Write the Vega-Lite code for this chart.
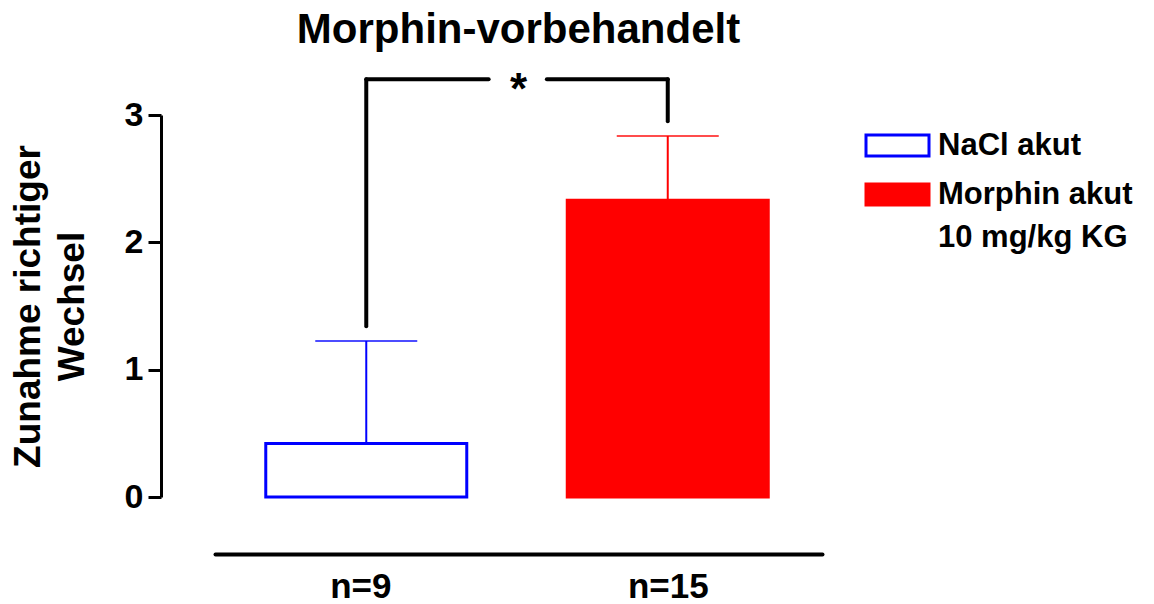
{
  "$schema": "https://vega.github.io/schema/vega-lite/v6.json",
  "width": 607,
  "height": 382,
  "autosize": {"type": "none"},
  "padding": {"left": 215, "top": 115, "right": 332, "bottom": 107},
  "background": "white",
  "config": {
    "font": "Liberation Sans",
    "view": {"stroke": null},
    "style": {"guide-label": {"lineHeight": 43}}
  },
  "title": {
    "text": "Morphin-vorbehandelt",
    "fontSize": 42,
    "fontWeight": "bold",
    "font": "Liberation Sans",
    "color": "black",
    "anchor": "middle",
    "frame": "group",
    "offset": 17
  },
  "datasets": {
    "bars": [
      {"pos": 0.99, "group": "NaCl akut", "mean": 0.42, "upper": 1.225},
      {"pos": 2, "group": "Morphin akut", "mean": 2.33, "upper": 2.835}
    ],
    "bracket": [
      {"x": 0.99, "x2": 0.99, "y": 1.34, "y2": 3.28},
      {"x": 0.99, "x2": 1.4, "y": 3.28, "y2": 3.28},
      {"x": 1.595, "x2": 2, "y": 3.28, "y2": 3.28},
      {"x": 2, "x2": 2, "y": 2.95, "y2": 3.28}
    ],
    "star": [
      {"x": 1.5, "y": 3.28, "label": "*"}
    ]
  },
  "layer": [
    {
      "data": {"name": "bars"},
      "mark": {"type": "bar", "size": 201, "strokeWidth": 3},
      "encoding": {
        "x": {
          "field": "pos", "type": "quantitative",
          "scale": {"domain": [0.5, 2.5], "nice": false, "zero": false},
          "axis": {
            "orient": "bottom", "offset": 57, "values": [0.97, 2],
            "labelExpr": "datum.value < 1.5 ? 'n=9' : 'n=15'",
            "ticks": false, "grid": false, "title": null,
            "domainColor": "black", "domainWidth": 4, "domainCap": "round",
            "labelFontSize": 35, "labelFontWeight": "bold", "labelColor": "black",
            "labelFont": "Liberation Sans", "labelPadding": 15
          }
        },
        "y": {
          "field": "mean", "type": "quantitative",
          "scale": {"domain": [0, 3], "nice": false},
          "axis": {
            "values": [0, 1, 2, 3], "format": "d", "offset": 54, "grid": false,
            "tickSize": 13, "tickWidth": 3, "tickColor": "black",
            "domainColor": "black", "domainWidth": 3,
            "labelFontSize": 34, "labelFontWeight": "bold", "labelColor": "black",
            "labelFont": "Liberation Sans", "labelPadding": 5,
            "title": ["Zunahme richtiger", "Wechsel"],
            "titleFontSize": 37, "titleFontWeight": "bold", "titleColor": "black",
            "titleFont": "Liberation Sans", "titleLineHeight": 44, "titlePadding": 33
          }
        },
        "fill": {
          "field": "group", "type": "nominal",
          "scale": {"domain": ["NaCl akut", "Morphin akut"], "range": ["white", "red"]},
          "legend": {
            "title": null, "orient": "none", "legendX": 660, "legendY": 8,
            "symbolType": "M-1.5,-0.5H1.5V0.5H-1.5Z", "symbolSize": 1764,
            "symbolStrokeWidth": 3,
            "labelFontSize": 31, "labelFontWeight": "bold", "labelColor": "black",
            "labelFont": "Liberation Sans", "labelOffset": 18, "rowPadding": 10,
            "labelLimit": 400,
            "labelExpr": "datum.label == 'Morphin akut' ? ['Morphin akut', '10 mg/kg KG'] : datum.label"
          }
        },
        "stroke": {
          "field": "group", "type": "nominal",
          "scale": {"domain": ["NaCl akut", "Morphin akut"], "range": ["blue", "red"]},
          "legend": null
        }
      }
    },
    {
      "data": {"name": "bars"},
      "mark": {"type": "rule", "strokeWidth": 2},
      "encoding": {
        "x": {"field": "pos", "type": "quantitative"},
        "y": {"field": "mean", "type": "quantitative"},
        "y2": {"field": "upper"},
        "stroke": {"field": "group", "type": "nominal", "legend": null}
      }
    },
    {
      "data": {"name": "bars"},
      "mark": {"type": "tick", "orient": "horizontal", "size": 102, "thickness": 2},
      "encoding": {
        "x": {"field": "pos", "type": "quantitative"},
        "y": {"field": "upper", "type": "quantitative"},
        "color": {"field": "group", "type": "nominal",
          "scale": {"domain": ["NaCl akut", "Morphin akut"], "range": ["blue", "red"]},
          "legend": null}
      }
    },
    {
      "data": {"name": "bracket"},
      "mark": {"type": "rule", "strokeWidth": 4, "color": "black", "strokeCap": "round", "clip": false},
      "encoding": {
        "x": {"field": "x", "type": "quantitative"},
        "x2": {"field": "x2"},
        "y": {"field": "y", "type": "quantitative"},
        "y2": {"field": "y2"}
      }
    },
    {
      "data": {"name": "star"},
      "mark": {"type": "text", "fontSize": 44, "fontWeight": "bold", "font": "Liberation Sans", "color": "black", "baseline": "alphabetic", "dy": 25},
      "encoding": {
        "x": {"field": "x", "type": "quantitative"},
        "y": {"field": "y", "type": "quantitative"},
        "text": {"field": "label"}
      }
    }
  ],
  "resolve": {"scale": {"color": "independent"}}
}
